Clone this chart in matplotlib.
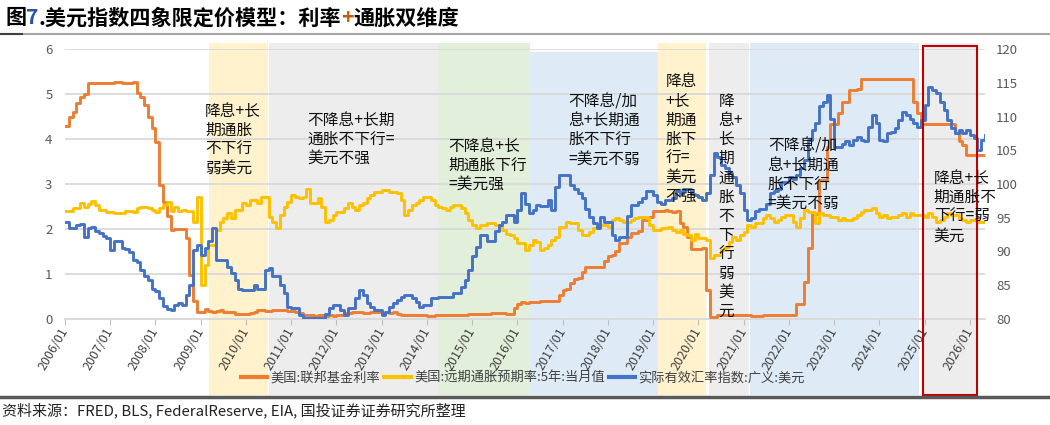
import numpy as np
import matplotlib.pyplot as plt
from matplotlib.lines import Line2D
from matplotlib.patches import Rectangle
import matplotlib.transforms as mtransforms

plt.rcParams["font.family"] = ["Noto Sans CJK SC", "DejaVu Sans"]

# monthly values, 2006/01 .. 2026/05
fed_funds = [
    4.29, 4.49, 4.59, 4.79, 4.94, 4.99, 5.24, 5.25, 5.25, 5.25, 5.25, 5.24,
    5.25, 5.26, 5.26, 5.25, 5.25, 5.25, 5.26, 5.02, 4.94, 4.76, 4.49, 4.24,
    3.94, 2.98, 2.61, 2.28, 1.98, 2.00, 2.01, 2.00, 1.81, 0.97, 0.39, 0.16,
    0.15, 0.22, 0.18, 0.15, 0.18, 0.21, 0.16, 0.16, 0.15, 0.12, 0.12, 0.12,
    0.11, 0.13, 0.16, 0.20, 0.20, 0.18, 0.18, 0.19, 0.19, 0.19, 0.19, 0.18,
    0.17, 0.16, 0.14, 0.10, 0.09, 0.09, 0.07, 0.10, 0.08, 0.07, 0.08, 0.07,
    0.08, 0.10, 0.13, 0.14, 0.16, 0.16, 0.16, 0.13, 0.14, 0.16, 0.16, 0.16,
    0.14, 0.15, 0.14, 0.15, 0.11, 0.09, 0.09, 0.08, 0.08, 0.09, 0.08, 0.09,
    0.07, 0.07, 0.08, 0.09, 0.09, 0.10, 0.09, 0.09, 0.09, 0.09, 0.09, 0.12,
    0.11, 0.11, 0.11, 0.12, 0.12, 0.13, 0.13, 0.14, 0.14, 0.12, 0.12, 0.24,
    0.34, 0.38, 0.36, 0.37, 0.37, 0.38, 0.39, 0.40, 0.40, 0.40, 0.41, 0.54,
    0.65, 0.66, 0.79, 0.90, 0.91, 1.04, 1.15, 1.16, 1.15, 1.15, 1.16, 1.30,
    1.41, 1.42, 1.51, 1.69, 1.70, 1.82, 1.91, 1.91, 1.95, 2.19, 2.20, 2.27,
    2.40, 2.40, 2.41, 2.42, 2.39, 2.38, 2.40, 2.13, 2.04, 1.83, 1.55, 1.55,
    1.55, 1.58, 0.65, 0.05, 0.05, 0.08, 0.09, 0.10, 0.09, 0.09, 0.09, 0.09,
    0.09, 0.08, 0.07, 0.07, 0.06, 0.08, 0.10, 0.09, 0.08, 0.08, 0.08, 0.08,
    0.08, 0.08, 0.33, 0.33, 0.83, 1.58, 2.33, 2.33, 3.08, 3.08, 3.83, 4.33,
    4.33, 4.58, 4.83, 4.83, 5.08, 5.08, 5.12, 5.33, 5.33, 5.33, 5.33, 5.33,
    5.33, 5.33, 5.33, 5.33, 5.33, 5.33, 5.33, 5.33, 5.33, 4.83, 4.58, 4.33,
    4.33, 4.33, 4.33, 4.33, 4.33, 4.33, 4.33, 4.33, 4.13, 3.95, 3.87, 3.64,
    3.64, 3.64, 3.64, 3.64, 3.64,
]

inflation_5y = [
    2.41, 2.41, 2.46, 2.46, 2.57, 2.50, 2.56, 2.62, 2.53, 2.42, 2.42, 2.38,
    2.38, 2.35, 2.35, 2.35, 2.41, 2.41, 2.38, 2.46, 2.50, 2.50, 2.46, 2.42,
    2.38, 2.46, 2.53, 2.60, 2.41, 2.50, 2.41, 2.42, 2.41, 2.41, 2.16, 2.72,
    0.76, 1.20, 1.64, 1.64, 1.98, 2.16, 2.24, 2.35, 2.24, 2.42, 2.42, 2.57,
    2.53, 2.64, 2.64, 2.57, 2.72, 2.72, 2.27, 2.16, 2.02, 2.31, 2.50, 2.61,
    2.75, 2.72, 2.68, 2.72, 2.90, 2.57, 2.57, 2.70, 2.50, 2.16, 2.20, 2.31,
    2.38, 2.38, 2.46, 2.57, 2.50, 2.42, 2.53, 2.57, 2.68, 2.75, 2.82, 2.82,
    2.86, 2.86, 2.82, 2.82, 2.79, 2.64, 2.31, 2.42, 2.53, 2.57, 2.64, 2.72,
    2.72, 2.64, 2.53, 2.50, 2.46, 2.42, 2.50, 2.53, 2.53, 2.46, 2.35, 2.20,
    2.09, 2.02, 2.09, 2.09, 2.13, 2.13, 2.09, 2.09, 1.98, 1.90, 1.87, 1.79,
    1.68, 1.68, 1.53, 1.64, 1.76, 1.72, 1.53, 1.57, 1.64, 1.76, 1.83, 2.05,
    2.05, 2.16, 2.13, 2.13, 1.98, 1.87, 1.87, 1.94, 2.02, 2.05, 2.09, 2.09,
    2.05, 2.20, 2.24, 2.20, 2.16, 2.16, 2.20, 2.24, 2.27, 2.27, 2.24, 2.09,
    1.98, 1.98, 2.02, 2.02, 2.05, 1.98, 1.94, 1.98, 1.90, 1.87, 1.76, 1.90,
    1.79, 1.79, 1.76, 1.35, 1.42, 1.42, 1.53, 1.61, 1.72, 1.83, 1.76, 1.87,
    1.94, 2.09, 2.05, 2.13, 2.13, 2.24, 2.31, 2.24, 2.16, 2.20, 2.27, 2.31,
    2.31, 2.16, 2.05, 2.24, 2.42, 2.38, 2.38, 2.13, 2.35, 2.31, 2.31, 2.27,
    2.27, 2.20, 2.24, 2.20, 2.20, 2.24, 2.31, 2.38, 2.42, 2.42, 2.46, 2.35,
    2.27, 2.31, 2.24, 2.27, 2.27, 2.31, 2.35, 2.27, 2.35, 2.31, 2.31, 2.31,
    2.27, 2.35, 2.27, 2.16, 2.20, 2.27, 2.35, 2.31, 2.31, 2.24, 2.20, 2.16,
    2.20, 2.20, 2.16, 2.16, 2.16,
]

reer_usd = [
    94.4, 93.5, 93.5, 93.9, 94.1, 92.2, 93.5, 93.7, 93.0, 92.7, 92.3, 92.0,
    90.2, 91.5, 91.5, 90.5, 90.3, 90.0, 88.7, 88.5, 87.3, 86.3, 85.8, 84.5,
    84.1, 83.1, 82.0, 81.5, 81.3, 82.1, 82.3, 82.1, 83.5, 85.1, 90.2, 90.9,
    89.5, 90.5, 91.5, 93.5, 88.7, 88.7, 88.7, 87.7, 86.8, 85.8, 84.5, 84.3,
    84.3, 84.3, 85.1, 84.5, 84.5, 87.3, 87.5, 86.3, 86.3, 85.1, 83.8, 81.8,
    81.6, 81.6, 80.6, 80.1, 80.1, 80.1, 80.1, 80.1, 80.1, 80.8, 81.6, 82.1,
    82.1, 81.3, 80.6, 81.6, 81.6, 83.1, 84.3, 83.5, 82.3, 81.8, 81.3, 81.3,
    80.6, 81.1, 81.8, 82.3, 82.8, 83.3, 83.5, 83.5, 83.1, 82.5, 81.8, 82.1,
    82.1, 83.1, 83.1, 83.3, 83.3, 83.3, 83.3, 83.8, 83.8, 84.8, 85.8, 87.3,
    89.3, 90.7, 92.5, 92.5, 91.5, 91.5, 93.0, 93.9, 94.4, 95.4, 95.4, 94.4,
    96.1, 98.6, 97.1, 95.7, 96.1, 96.9, 96.7, 96.7, 97.6, 96.1, 99.6, 101.3,
    101.3, 101.3, 99.9, 99.3, 98.6, 97.9, 96.3, 95.1, 94.2, 93.5, 95.1, 94.4,
    94.4, 92.5, 91.7, 92.1, 92.1, 95.3, 96.9, 96.9, 97.3, 98.0, 98.9, 98.9,
    98.3, 97.3, 97.1, 97.6, 97.6, 98.0, 98.9, 98.5, 99.2, 99.2, 98.5, 98.3,
    98.1, 97.6, 98.7, 101.3, 104.6, 104.0, 102.8, 102.3, 101.7, 101.0, 99.8, 98.6,
    96.1, 94.7, 95.0, 96.0, 96.3, 96.3, 97.0, 98.6, 98.9, 99.3, 100.3, 100.3,
    101.1, 100.7, 101.3, 102.3, 103.5, 106.5, 108.0, 109.0, 111.5, 112.2, 113.2, 109.7,
    105.5, 105.5, 106.0, 106.3, 105.8, 106.5, 107.0, 106.5, 106.3, 108.5, 110.2, 109.0,
    106.5, 106.3, 107.5, 107.7, 108.3, 109.5, 110.7, 110.2, 109.7, 109.0, 108.5, 109.5,
    111.7, 114.4, 113.9, 113.5, 112.2, 110.9, 109.5, 108.3, 107.5, 108.0, 107.5, 108.0,
    107.3, 106.8, 105.1, 106.5, 107.3,
]

tick_labels = ["{}/01".format(y) for y in range(2006, 2027)]
series_labels = ["美国:联邦基金利率", "美国:远期通胀预期率:5年:当月值", "实际有效汇率指数:广义:美元"]

# regime periods in months since 2006/01
regime_start = [38.2, 54.2, 98.8, 123.4, 157.2, 170.7, 181.6, 227.5]
regime_end = [53.9, 98.8, 123.2, 157.2, 169.9, 181.3, 226.4, 241.8]
regime_kind = ["cut", "hold", "strong", "hike", "cut", "hold", "hike", "hold"]

notes = [
    "降息+长\n期通胀\n不下行\n弱美元",
    "不降息+长期\n通胀不下行=\n美元不强",
    "不降息+长\n期通胀下行\n=美元强",
    "不降息/加\n息+长期通\n胀不下行\n=美元不弱",
    "降息\n+长\n期通\n胀下\n行=\n美元\n不强",
    "降\n息+\n长\n期\n通\n胀\n不\n下\n行\n弱\n美\n元",
    "不降息/加\n息+长期通\n胀不下行\n=美元不弱",
    "降息+长\n期通胀不\n下行=弱\n美元",
]
note_x = [37.2, 64.2, 101.7, 133.5, 159.3, 173.3, 186.4, 230.4]
note_y = [4.80, 4.60, 4.02, 5.02, 5.46, 5.02, 4.04, 3.31]

shade_colors = {"cut": "#fff2cc", "hold": "#ededed", "strong": "#e2efda", "hike": "#deebf7"}
orange, yellow, blue = "#ed7d31", "#ffc000", "#4472c4"
grey_text = "#595959"

W, H = 1050, 425
fig = plt.figure(figsize=(W / 100, H / 100), dpi=100)
ax = fig.add_axes([65 / W, 1 - 319 / H, 920 / W, 270 / H])
ax2 = ax.twinx()

months = np.arange(len(fed_funds))

trans = mtransforms.blended_transform_factory(ax.transData, ax.transAxes)
for i, (s, e, k) in enumerate(zip(regime_start, regime_end, regime_kind)):
    top = 0.989 if i == 3 else 1.022
    ax.add_patch(Rectangle((s, -0.281), e - s, top + 0.281, transform=trans,
                           facecolor=shade_colors[k], edgecolor="none",
                           clip_on=False, zorder=0.1))

ax.plot(months, fed_funds, color=orange, lw=2.1, drawstyle="steps-post", zorder=3)
ax.plot(months, inflation_5y, color=yellow, lw=2.1, drawstyle="steps-post", zorder=3)
ax2.plot(months, reer_usd, color=blue, lw=2.1, drawstyle="steps-post", zorder=3)

# red frame round the latest regime
trans2 = mtransforms.blended_transform_factory(ax2.transData, ax2.transAxes)
ax2.add_patch(Rectangle((regime_start[-1], -0.281), regime_end[-1] - regime_start[-1],
                        1.011 + 0.281, transform=trans2, facecolor="none",
                        edgecolor="#c00000", lw=1.5, clip_on=False, zorder=6))

for txt, x, y in zip(notes, note_x, note_y):
    ax2.text(x, 80 + y * 20 / 3, txt, fontsize=11.3, va="top", ha="left",
             linespacing=1.16, color="#111111", zorder=7)

ax.set_xlim(0, 244)
ax.set_ylim(0, 6)
ax2.set_ylim(80, 120)
ax.set_yticks(range(0, 7))
ax2.set_yticks(range(80, 121, 5))
ax.set_xticks(np.arange(0, 241, 12))
ax.set_xticklabels(tick_labels, rotation=60, ha="right", va="center",
                   rotation_mode="anchor", fontsize=9, color="#404040")
ax.grid(axis="y", color="#d9d9d9", lw=1.3)
ax.set_axisbelow(True)
for a in (ax, ax2):
    for sp in a.spines.values():
        sp.set_visible(False)
ax.spines["bottom"].set_visible(True)
ax.spines["bottom"].set_color("#d9d9d9")
ax.spines["bottom"].set_linewidth(1.3)
ax.tick_params(axis="x", length=4, color="#bfbfbf", pad=3)
ax.tick_params(axis="y", length=0, pad=9, labelsize=9.5, labelcolor=grey_text)
ax2.tick_params(axis="y", length=0, pad=8, labelsize=9.5, labelcolor=grey_text)

handles = [Line2D([], [], color=c, lw=3) for c in (orange, yellow, blue)]
leg = fig.legend(handles, series_labels, loc="center", bbox_to_anchor=(523 / W, 1 - 378 / H),
                 ncol=3, frameon=False, fontsize=9.5, handlelength=2.0,
                 handletextpad=0.25, columnspacing=0.3)
for t in leg.get_texts():
    t.set_color("#404040")

# header and footer
fig.add_artist(Line2D([0, 1], [1 - 34 / H] * 2, color="#a6a6a6", lw=1.5))
fig.add_artist(Line2D([0, 22 / W], [1 - 34 / H] * 2, color="#404040", lw=1.5))
fig.add_artist(Line2D([0, 1], [1 - 397 / H] * 2, color="#595959", lw=2.5))
fig.text(2 / W, 1 - 410 / H, "资料来源：FRED, BLS, FederalReserve, EIA, 国投证券证券研究所整理",
         fontsize=10.8, style="italic", va="center", ha="left", color="#222222")

title_parts = [("图", "black"), ("7", "#2f5597"), (".美元指数四象限定价模型：利率", "black"),
               ("+", "#c55a11"), ("通胀双维度", "black")]
fig.canvas.draw()
renderer = fig.canvas.get_renderer()
x = 5 / W
for s, c in title_parts:
    t = fig.text(x, 1 - 18 / H, s, color=c, fontsize=15.2, fontweight="bold",
                 va="center", ha="left")
    x += t.get_window_extent(renderer=renderer).width / fig.bbox.width

fig.savefig("out.png", dpi=100)
